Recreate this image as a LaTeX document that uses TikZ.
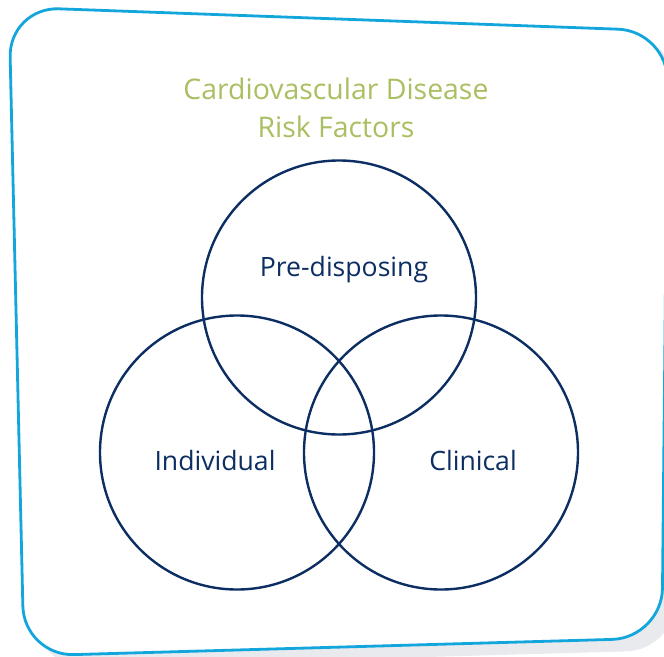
\documentclass[tikz,border=0pt]{standalone}
\usepackage{fontspec}
\setmainfont{Open Sans}
\definecolor{framec}{HTML}{12A6DC}
\definecolor{navy}{HTML}{0C2E62}
\definecolor{titlec}{HTML}{AABF62}
\definecolor{shadowc}{HTML}{E9EAEE}
\begin{document}
\begin{tikzpicture}[x=1pt,y=-1pt,
  frame/.style={draw=framec,line width=2.8pt,rounded corners=50pt},
  venn/.style={draw=navy,line width=2.4pt},
  lbl/.style={text=navy,font=\fontsize{26.6}{30}\selectfont},
  ttl/.style={text=titlec,font=\fontsize{28.4}{38}\selectfont,align=center}]
\useasboundingbox (0,0) rectangle (664,656);
% shadow
\fill[shadowc,rounded corners=50pt] (20,20) -- (680,40) -- (676,650) -- (36,668) -- cycle;
% frame
\filldraw[frame,fill=white] (9,7) -- (668,31) -- (662,638) -- (24,656) -- cycle;
% circles
\coordinate (ct) at (339,297.5);
\coordinate (cl) at (237,452.5);
\coordinate (cr) at (441,452.5);
\draw[venn] (ct) circle (137);
\draw[venn] (cl) circle (137);
\draw[venn] (cr) circle (137);
% labels
\node[ttl] (title) at (336,108) {Cardiovascular Disease\\Risk Factors};
\node[lbl] (pre) at (344,270) {Pre-disposing};
\node[lbl] (ind) at (215,461) {Individual};
\node[lbl] (cli) at (473,461) {Clinical};
\end{tikzpicture}
\end{document}
